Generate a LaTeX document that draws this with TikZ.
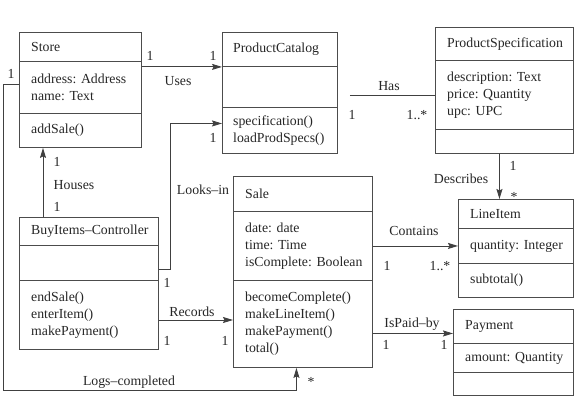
\documentclass[tikz,border=0pt]{standalone}
\usepackage{fontspec}
\setmainfont{Liberation Serif}
\usetikzlibrary{arrows.meta}
\begin{document}
\begin{tikzpicture}[x=1pt,y=-1pt,
  every node/.style={font=\fontsize{13.8}{17}\selectfont, text=black!85},
  box/.style={draw=black!70, line width=0.9pt, inner sep=0pt, anchor=north west},
  txt/.style={inner sep=0pt, anchor=west, align=left},
  lbl/.style={inner sep=0pt, anchor=base},
  arr/.style={draw=black!75, line width=0.9pt, -{Stealth[length=10pt,width=6pt,inset=1.5pt]}},
  ln/.style={draw=black!75, line width=0.9pt}]
\useasboundingbox (0,0) rectangle (581,418);

% Store
\node[box, minimum width=122pt, minimum height=29pt] (store-h) at (19,32) {};
\node[box, minimum width=122pt, minimum height=52pt] (store-a) at (19,61) {};
\node[box, minimum width=122pt, minimum height=34pt] (store-m) at (19,113) {};
\node[txt] (store-ht) at ([xshift=12pt]store-h.west) {Store};
\node[txt] (store-at) at ([xshift=12pt]store-a.west) {address: Address\\name: Text};
\node[txt] (store-mt) at ([xshift=12pt]store-m.west) {addSale()};

% ProductCatalog
\node[box, minimum width=115pt, minimum height=34pt] (pc-h) at (222,32) {};
\node[box, minimum width=115pt, minimum height=41pt] (pc-a) at (222,66) {};
\node[box, minimum width=115pt, minimum height=46pt] (pc-m) at (222,107) {};
\node[txt] (pc-ht) at ([xshift=11pt]pc-h.west) {ProductCatalog};
\node[txt] (pc-mt) at ([xshift=11pt]pc-m.west) {specification()\\loadProdSpecs()};

% ProductSpecification
\node[box, minimum width=138pt, minimum height=33pt] (ps-h) at (435,27) {};
\node[box, minimum width=138pt, minimum height=69pt] (ps-a) at (435,60) {};
\node[box, minimum width=138pt, minimum height=24pt] (ps-m) at (435,129) {};
\node[txt] (ps-ht) at ([xshift=12pt]ps-h.west) {ProductSpecification};
\node[txt] (ps-at) at ([xshift=12pt]ps-a.west) {description: Text\\price: Quantity\\upc: UPC};

% LineItem
\node[box, minimum width=115pt, minimum height=29pt] (li-h) at (458,199) {};
\node[box, minimum width=115pt, minimum height=35pt] (li-a) at (458,228) {};
\node[box, minimum width=115pt, minimum height=34pt] (li-m) at (458,263) {};
\node[txt] (li-ht) at ([xshift=12pt]li-h.west) {LineItem};
\node[txt] (li-at) at ([xshift=12pt]li-a.west) {quantity: Integer};
\node[txt] (li-mt) at ([xshift=12pt]li-m.west) {subtotal()};

% Payment
\node[box, minimum width=120pt, minimum height=34pt] (pay-h) at (453,309) {};
\node[box, minimum width=120pt, minimum height=29pt] (pay-a) at (453,343) {};
\node[box, minimum width=120pt, minimum height=23pt] (pay-m) at (453,372) {};
\node[txt] (pay-ht) at ([xshift=12pt]pay-h.west) {Payment};
\node[txt] (pay-at) at ([xshift=12pt]pay-a.west) {amount: Quantity};

% Sale
\node[box, minimum width=139pt, minimum height=35pt] (sale-h) at (233,176) {};
\node[box, minimum width=139pt, minimum height=69pt] (sale-a) at (233,211) {};
\node[box, minimum width=139pt, minimum height=87pt] (sale-m) at (233,280) {};
\node[txt] (sale-ht) at ([xshift=12pt]sale-h.west) {Sale};
\node[txt] (sale-at) at ([xshift=12pt]sale-a.west) {date: date\\time: Time\\isComplete: Boolean};
\node[txt] (sale-mt) at ([xshift=12pt]sale-m.west) {becomeComplete()\\makeLineItem()\\makePayment()\\total()};

% BuyItems-Controller
\node[box, minimum width=139pt, minimum height=28pt] (ctrl-h) at (19,217) {};
\node[box, minimum width=139pt, minimum height=35pt] (ctrl-a) at (19,245) {};
\node[box, minimum width=139pt, minimum height=69pt] (ctrl-m) at (19,280) {};
\node[txt] (ctrl-ht) at ([xshift=12pt]ctrl-h.west) {BuyItems--Controller};
\node[txt] (ctrl-mt) at ([xshift=12pt]ctrl-m.west) {endSale()\\enterItem()\\makePayment()};

% Connectors
\draw[arr] (store-a.east |- pc-h.south) -- (pc-h.south west);
\draw[arr] ([yshift=-6.5pt]ctrl-a.east) -- ++(12,0) |- ([yshift=7pt]pc-m.west);
\draw[ln] ([xshift=12pt]pc-a.east |- ps-a.west) -- (ps-a.west);
\draw[arr] ([xshift=-5pt]ps-m.south) -- ([xshift=-5pt]ps-m.south |- li-h.north);
\draw[arr] ([xshift=24pt]ctrl-h.north west) -- ([xshift=24pt]ctrl-h.north west |- store-m.south);
\draw[arr] ([yshift=-40pt]ctrl-m.north east) -- ([yshift=-40pt]ctrl-m.north east -| sale-m.west);
\draw[arr] (sale-a.east |- li-a.west) -- (li-a.west);
\draw[arr] ([yshift=-7pt]pay-h.west -| sale-m.east) -- ([yshift=-7pt]pay-h.west);
\draw[arr] ([yshift=3pt]store-a.west) -| (3,390) -| ([xshift=-6.5pt]sale-m.south);

% Labels
\node[lbl] (l1) at (150,60) {1};
\node[lbl] (l2) at (213,60) {1};
\node[lbl] (l3) at (178,85) {Uses};
\node[lbl] (l4) at (213,142) {1};
\node[lbl] (l5) at (389,90) {Has};
\node[lbl] (l6) at (352,119) {1};
\node[lbl] (l7) at (417,119) {1..*};
\node[lbl] (l8) at (513,170) {1};
\node[lbl] (l9) at (461,183) {Describes};
\node[lbl] (l10) at (514,201) {*};
\node[lbl] (l11) at (57,166) {1};
\node[lbl] (l12) at (74,189) {Houses};
\node[lbl] (l13) at (57,211) {1};
\node[lbl] (l14) at (203,194) {Looks--in};
\node[lbl] (l15) at (167,287) {1};
\node[lbl] (l16) at (192,316) {Records};
\node[lbl] (l17) at (167,345) {1};
\node[lbl] (l18) at (225,345) {1};
\node[lbl] (l19) at (129,385) {Logs--completed};
\node[lbl] (l20) at (311,386) {*};
\node[lbl] (l21) at (11,78) {1};
\node[lbl] (l22) at (414,235) {Contains};
\node[lbl] (l23) at (387,270) {1};
\node[lbl] (l24) at (440,270) {1..*};
\node[lbl] (l25) at (412,327) {IsPaid--by};
\node[lbl] (l26) at (386,349) {1};
\node[lbl] (l27) at (444,349) {1};
\end{tikzpicture}
\end{document}
